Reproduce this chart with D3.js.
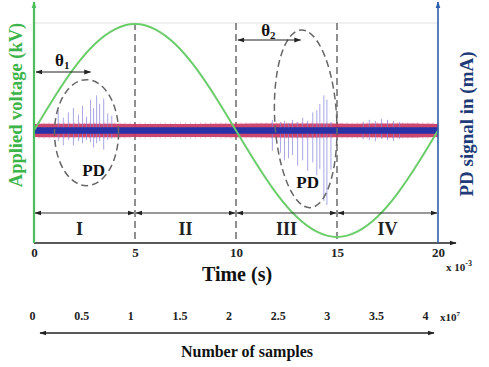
<!DOCTYPE html>
<html><head><meta charset="utf-8">
<script src="https://cdn.jsdelivr.net/npm/d3@7"></script>
<style>
html,body{margin:0;padding:0;background:#fff;}
svg{display:block;}
text{font-family:"Liberation Serif","Times New Roman",serif;font-weight:bold;}
</style></head>
<body>
<svg id="c" width="489" height="367"></svg>
<script>
// ---- data ----
const timeTicks = [0, 5, 10, 15, 20];            // x 10^-3 s
const sampleTicks = [0, 0.5, 1, 1.5, 2, 2.5, 3, 3.5, 4]; // x 10^7
const voltT = [0,1,2,3,4,5,6,7,8,9,10,11,12,13,14,15,16,17,18,19,20];
const voltV = [0,0.31,0.59,0.81,0.95,1.0,0.95,0.81,0.59,0.31,0,-0.31,-0.59,-0.81,-0.95,-1.0,-0.95,-0.81,-0.59,-0.31,0];
const regions = ["I", "II", "III", "IV"];
const regionBounds = [0, 5, 10, 15, 20];
// PD noise band envelope (normalised)
const bandT   = [0, 2, 4, 6, 8, 10, 12, 14, 16, 18, 20];
const redHalf = [0.062,0.065,0.064,0.060,0.062,0.063,0.066,0.065,0.064,0.066,0.062];
const blueHalf= [0.030,0.032,0.031,0.029,0.030,0.031,0.032,0.031,0.030,0.032,0.030];
// PD spikes (time ms, upward peak, downward peak)
const spikeT   = [1.2,1.45,1.7,1.95,2.2,2.4,2.6,2.8,2.95,3.1,3.25,3.45,3.65,3.85,
                  11.8,12.2,12.4,12.6,12.8,13.05,13.3,13.55,13.8,14.0,14.15,14.35,14.5,14.7,
                  16.3,16.6,16.9,17.2,17.5,17.8,18.1];
const spikeUp  = [0.19,0.12,0.17,0.21,0.15,0.23,0.13,0.29,0.21,0.33,0.25,0.30,0.16,0.14,
                  0.10,0.08,0.09,0.07,0.10,0.08,0.12,0.09,0.17,0.19,0.25,0.33,0.29,0.08,
                  0.08,0.10,0.09,0.11,0.10,0.09,0.08];
const spikeDown= [-0.10,-0.14,-0.09,-0.14,-0.10,-0.12,-0.09,-0.11,-0.16,-0.12,-0.10,-0.18,-0.09,-0.08,
                  -0.19,-0.21,-0.28,-0.26,-0.23,-0.33,-0.28,-0.38,-0.30,-0.42,-0.36,-0.66,-0.70,-0.37,
                  -0.08,-0.09,-0.10,-0.08,-0.09,-0.10,-0.08];
const theta1 = [0.1, 2.8];
const theta2 = [10.1, 13.2];

// ---- layout ----
const svg = d3.select("#c");
const x = d3.scaleLinear().domain([0, 20]).range([34, 438]);
const y = d3.scaleLinear().domain([-1, 1]).range([237, 24]);
const xs = d3.scaleLinear().domain([0, 4]).range([32, 425]);
const axisY = 243;

const defs = svg.append("defs");
function marker(id, color, orient) {
  defs.append("marker").attr("id", id).attr("viewBox", "0 0 10 10")
    .attr("refX", 9).attr("refY", 5).attr("markerWidth", 7).attr("markerHeight", 7)
    .attr("orient", orient || "auto-start-reverse").attr("markerUnits", "userSpaceOnUse")
    .append("path").attr("d", "M0,1.5 L10,5 L0,8.5 Z").attr("fill", color);
}
marker("ak", "#222");
marker("ag", "#4cbf5c");
marker("ab", "#2e5fae");

// top grid line
svg.append("line").attr("x1", x(0)).attr("x2", x(20)).attr("y1", y(1) - 1).attr("y2", y(1) - 1)
  .attr("stroke", "#e2e2e2").attr("stroke-width", 1);

// dashed verticals
[5, 10, 15].forEach(t => {
  svg.append("line").attr("x1", x(t)).attr("x2", x(t)).attr("y1", y(1) - 1).attr("y2", axisY)
    .attr("stroke", "#555").attr("stroke-width", 1.3).attr("stroke-dasharray", "7,4");
});

// PD noise band
const bandRed = d3.area().x((d, i) => x(bandT[i])).y0((d, i) => y(-redHalf[i])).y1((d, i) => y(redHalf[i])).curve(d3.curveBasis);
const bandBlue = d3.area().x((d, i) => x(bandT[i])).y0((d, i) => y(-blueHalf[i])).y1((d, i) => y(blueHalf[i])).curve(d3.curveBasis);
svg.append("path").datum(bandT).attr("d", bandRed).attr("fill", "#c8325e").attr("opacity", 0.9);
const fuzz = svg.append("g").attr("stroke", "#d0507a").attr("stroke-width", 0.7).attr("opacity", 0.5);
d3.range(0, 20.01, 0.25).forEach(t => {
  fuzz.append("line").attr("x1", x(t)).attr("x2", x(t)).attr("y1", y(0.076)).attr("y2", y(-0.076));
});
// spikes
const sp = svg.append("g").attr("stroke", "#8482dc").attr("stroke-width", 1).attr("opacity", 0.7);
spikeT.forEach((t, i) => {
  sp.append("line").attr("x1", x(t)).attr("x2", x(t)).attr("y1", y(spikeUp[i])).attr("y2", y(spikeDown[i]));
});
svg.append("path").datum(bandT).attr("d", bandBlue).attr("fill", "#2832a6");

// voltage curve
const vline = d3.line().x((d, i) => x(voltT[i])).y(d => y(d)).curve(d3.curveNatural);
svg.append("path").datum(voltV).attr("d", vline).attr("fill", "none")
  .attr("stroke", "#6acd6a").attr("stroke-width", 2);

// ellipses
svg.append("ellipse").attr("cx", x(2.6)).attr("cy", y(-0.02)).attr("rx", 32).attr("ry", 53)
  .attr("fill", "none").attr("stroke", "#666").attr("stroke-width", 1.5).attr("stroke-dasharray", "7,4");
svg.append("ellipse").attr("cx", 0).attr("cy", 0).attr("rx", 31).attr("ry", 89)
  .attr("transform", `translate(${x(13.45)},${y(0.11)}) rotate(-3)`)
  .attr("fill", "none").attr("stroke", "#666").attr("stroke-width", 1.5).attr("stroke-dasharray", "7,4");
svg.append("text").attr("x", x(2.95)).attr("y", 176).attr("text-anchor", "middle")
  .attr("font-size", 17).attr("fill", "#111").text("PD");
svg.append("text").attr("x", x(13.55)).attr("y", 188).attr("text-anchor", "middle")
  .attr("font-size", 17).attr("fill", "#111").text("PD");

// theta arrows
function dbl(x1, x2, yy, col, w) {
  svg.append("line").attr("x1", x1).attr("x2", x2).attr("y1", yy).attr("y2", yy)
    .attr("stroke", col || "#222").attr("stroke-width", w || 1.2)
    .attr("marker-start", "url(#ak)").attr("marker-end", "url(#ak)");
}
dbl(x(theta1[0]), x(theta1[1]), 72);
dbl(x(theta2[0]), x(theta2[1]), 40);
function theta(cx, by, n) {
  const t = svg.append("text").attr("x", cx).attr("y", by).attr("text-anchor", "middle")
    .attr("font-size", 17).attr("fill", "#111");
  t.append("tspan").text("θ");
  t.append("tspan").attr("font-size", 11).attr("dy", 3).text(n);
}
theta(x(1.4), 66, "1");
theta(x(11.6), 36, "2");

// region arrows + labels
for (let i = 0; i < 4; i++) {
  dbl(x(regionBounds[i]) + 1, x(regionBounds[i + 1]) - 1, 213, "#333", 1.2);
  svg.append("text").attr("x", x((regionBounds[i] + regionBounds[i + 1]) / 2) - (i === 0 ? 5 : 0))
    .attr("y", 235).attr("text-anchor", "middle").attr("font-size", 18).attr("fill", "#222").text(regions[i]);
}

// bottom time axis
svg.append("line").attr("x1", x(0)).attr("x2", 456).attr("y1", axisY).attr("y2", axisY)
  .attr("stroke", "#222").attr("stroke-width", 1.3).attr("marker-end", "url(#ak)");
const xa = svg.append("g").attr("transform", `translate(0,${axisY})`)
  .call(d3.axisBottom(x).tickValues(timeTicks).tickSize(0).tickPadding(5).tickFormat(d3.format("d")));
xa.select(".domain").remove();
xa.selectAll("text").attr("font-family", "Liberation Serif, serif").attr("font-weight", "bold")
  .attr("font-size", 13).attr("fill", "#222");
const xm = svg.append("text").attr("x", 446).attr("y", 271).attr("font-size", 11).attr("fill", "#222");
xm.append("tspan").text("x 10");
xm.append("tspan").attr("font-size", 8).attr("dy", -5).text("-3");
svg.append("text").attr("x", 237).attr("y", 281).attr("text-anchor", "middle")
  .attr("font-size", 20).attr("fill", "#111").text("Time (s)");

// left (voltage) axis
svg.append("line").attr("x1", x(0)).attr("x2", x(0)).attr("y1", axisY).attr("y2", 2)
  .attr("stroke", "#4cbf5c").attr("stroke-width", 2.2).attr("marker-end", "url(#ag)");
svg.append("text").attr("transform", "translate(22,105) rotate(-90)").attr("text-anchor", "middle")
  .attr("font-size", 18.5).attr("fill", "#3cb44a").text("Applied voltage (kV)");

// right (PD) axis
svg.append("line").attr("x1", x(20)).attr("x2", x(20)).attr("y1", axisY).attr("y2", 2)
  .attr("stroke", "#2e5fae").attr("stroke-width", 1.6).attr("marker-end", "url(#ab)");
svg.append("text").attr("transform", "translate(473,124) rotate(-90)").attr("text-anchor", "middle")
  .attr("font-size", 19).attr("fill", "#1f3c78").text("PD signal in (mA)");

// sample axis
const sa = svg.append("g").attr("transform", "translate(0,307)")
  .call(d3.axisBottom(xs).tickValues(sampleTicks).tickSize(0).tickPadding(4).tickFormat(d => String(d)));
sa.select(".domain").remove();
sa.selectAll("text").attr("font-family", "Liberation Serif, serif").attr("font-weight", "bold")
  .attr("font-size", 12).attr("fill", "#222");
const sm = svg.append("text").attr("x", 440).attr("y", 321).attr("font-size", 11).attr("fill", "#222");
sm.append("tspan").text("x10");
sm.append("tspan").attr("font-size", 7).attr("dy", -5).text("7");
svg.append("line").attr("x1", 40).attr("x2", 434).attr("y1", 333).attr("y2", 333)
  .attr("stroke", "#222").attr("stroke-width", 1.6)
  .attr("marker-start", "url(#ak)").attr("marker-end", "url(#ak)");
svg.append("text").attr("x", 247).attr("y", 357).attr("text-anchor", "middle")
  .attr("font-size", 16).attr("fill", "#111").text("Number of samples");
</script>
</body></html>
